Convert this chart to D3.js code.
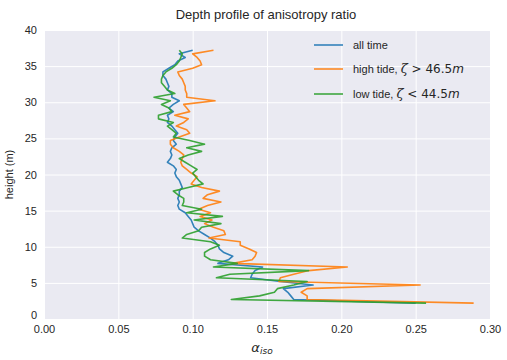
<!DOCTYPE html>
<html><head><meta charset="utf-8">
<script src="https://cdn.jsdelivr.net/npm/d3@7"></script>
<style>body{margin:0;background:#fff}svg{display:block}text{font-family:"Liberation Sans",Arial,sans-serif}</style>
</head><body><svg id="c" width="507" height="360"></svg>
<script>
const depths = d3.range(71).map(i => +(37.2 - 0.5 * i).toFixed(1));
const allTime = [0.100,0.091,0.095,0.090,0.088,0.084,0.080,0.080,0.082,0.083,0.084,0.083,0.086,0.086,0.091,0.087,0.084,0.087,0.083,0.084,0.083,0.086,0.088,0.090,0.088,0.087,0.089,0.086,0.085,0.086,0.085,0.083,0.087,0.089,0.088,0.089,0.091,0.092,0.093,0.091,0.091,0.090,0.091,0.090,0.091,0.095,0.097,0.099,0.100,0.101,0.104,0.108,0.112,0.115,0.117,0.118,0.121,0.127,0.124,0.117,0.147,0.142,0.140,0.139,0.159,0.181,0.161,0.164,0.166,0.168,0.250];
const highTide = [0.114,0.100,0.103,0.105,0.106,0.100,0.090,0.091,0.093,0.094,0.095,0.095,0.096,0.096,0.115,0.094,0.096,0.098,0.088,0.097,0.094,0.089,0.096,0.098,0.091,0.085,0.085,0.087,0.091,0.094,0.093,0.092,0.093,0.096,0.099,0.103,0.101,0.099,0.106,0.118,0.110,0.107,0.119,0.110,0.104,0.112,0.105,0.113,0.108,0.114,0.121,0.122,0.111,0.132,0.132,0.138,0.143,0.142,0.140,0.127,0.204,0.178,0.168,0.159,0.158,0.253,0.177,0.173,0.177,0.177,0.289];
const lowTide = [0.091,0.093,0.092,0.091,0.089,0.086,0.082,0.080,0.079,0.079,0.081,0.083,0.088,0.074,0.085,0.079,0.084,0.086,0.077,0.077,0.087,0.083,0.086,0.089,0.087,0.098,0.108,0.096,0.106,0.097,0.091,0.095,0.099,0.103,0.100,0.102,0.104,0.107,0.097,0.087,0.090,0.094,0.094,0.093,0.106,0.096,0.120,0.101,0.119,0.106,0.104,0.096,0.093,0.112,0.118,0.112,0.108,0.108,0.112,0.130,0.114,0.178,0.125,0.116,0.177,0.168,0.157,0.155,0.145,0.126,0.257];
const xTicks = [0,0.05,0.10,0.15,0.20,0.25,0.30];
const yTicks = [0,5,10,15,20,25,30,35,40];
const seriesNames = ["all time","high tide","low tide"];
const colors = ["#1f77b4","#ff7f0e","#2ca02c"];

const svg = d3.select("#c");
const m = {l:44, r:17, t:30, b:41};
const W = 507, H = 360;
const x = d3.scaleLinear().domain([0,0.30]).range([m.l, W - m.r]);
const y = d3.scaleLinear().domain([0,40]).range([H - m.b, m.t]);

svg.append("rect").attr("x",m.l).attr("y",m.t).attr("width",x(0.30)-m.l).attr("height",y(0)-m.t).attr("fill","#EAEAF2");

const gx = svg.append("g").attr("transform",`translate(0,${y(0)})`)
  .call(d3.axisBottom(x).tickValues(xTicks).tickFormat(d3.format(".2f")).tickSize(-(y(0)-m.t)).tickPadding(6));
const gy = svg.append("g").attr("transform",`translate(${m.l},0)`)
  .call(d3.axisLeft(y).tickValues(yTicks).tickFormat(d3.format("d")).tickSize(-(x(0.30)-m.l)).tickPadding(7));
[gx,gy].forEach(g=>{
  g.select(".domain").remove();
  g.selectAll(".tick line").attr("stroke","#fff").attr("stroke-width",1);
  g.selectAll(".tick text").attr("fill","#262626").attr("font-size",11);
});
gy.selectAll(".tick text").filter(d=>d===0).attr("dy","-0.05em");

const series = [allTime, highTide, lowTide];
const line = d3.line().x(d=>x(d[0])).y(d=>y(d[1]));
series.forEach((s,k)=>{
  svg.append("path").datum(s.map((v,i)=>[v,depths[i]]))
    .attr("d",line).attr("fill","none").attr("stroke",colors[k])
    .attr("stroke-width",1.6).attr("stroke-opacity",0.9).attr("stroke-linejoin","round");
});

svg.append("text").attr("x",266).attr("y",19).attr("text-anchor","middle")
  .attr("font-size",13).attr("fill","#262626").text("Depth profile of anisotropy ratio");
svg.append("text").attr("transform",`translate(13,${(y(0)+m.t)/2}) rotate(-90)`)
  .attr("text-anchor","middle").attr("font-size",11).attr("fill","#262626").text("height (m)");
const xl = svg.append("text").attr("x",262).attr("y",352).attr("text-anchor","middle").attr("fill","#262626");
xl.append("tspan").attr("font-size",13).attr("font-style","italic").attr("font-family","DejaVu Sans").text("α");
xl.append("tspan").attr("font-size",9).attr("font-style","italic").attr("font-family","DejaVu Sans").attr("dy",2).text("iso");

// legend
const legY = [45, 69, 94];
const leg = svg.append("g");
legY.forEach((ly,k)=>{
  leg.append("line").attr("x1",314).attr("x2",343).attr("y1",ly).attr("y2",ly)
    .attr("stroke",colors[k]).attr("stroke-width",1.6).attr("stroke-opacity",0.9);
});
leg.append("text").attr("x",353).attr("y",legY[0]+4).attr("font-size",11).attr("fill","#262626").text(seriesNames[0]);
function mathLabel(ly, base, op, val){
  const t = leg.append("text").attr("x",353).attr("y",ly+4).attr("font-size",11).attr("fill","#262626");
  t.append("tspan").text(base + ", ");
  t.append("tspan").attr("font-family","DejaVu Serif").attr("font-style","italic").attr("font-size",13).text("ζ");
  t.append("tspan").attr("font-family","DejaVu Sans").attr("font-size",12).text(" " + op + " " + val);
  t.append("tspan").attr("font-family","DejaVu Sans").attr("font-style","italic").attr("font-size",12).text("m");
}
mathLabel(legY[1], "high tide", ">", "46.5");
mathLabel(legY[2], "low tide", "<", "44.5");
</script></body></html>
